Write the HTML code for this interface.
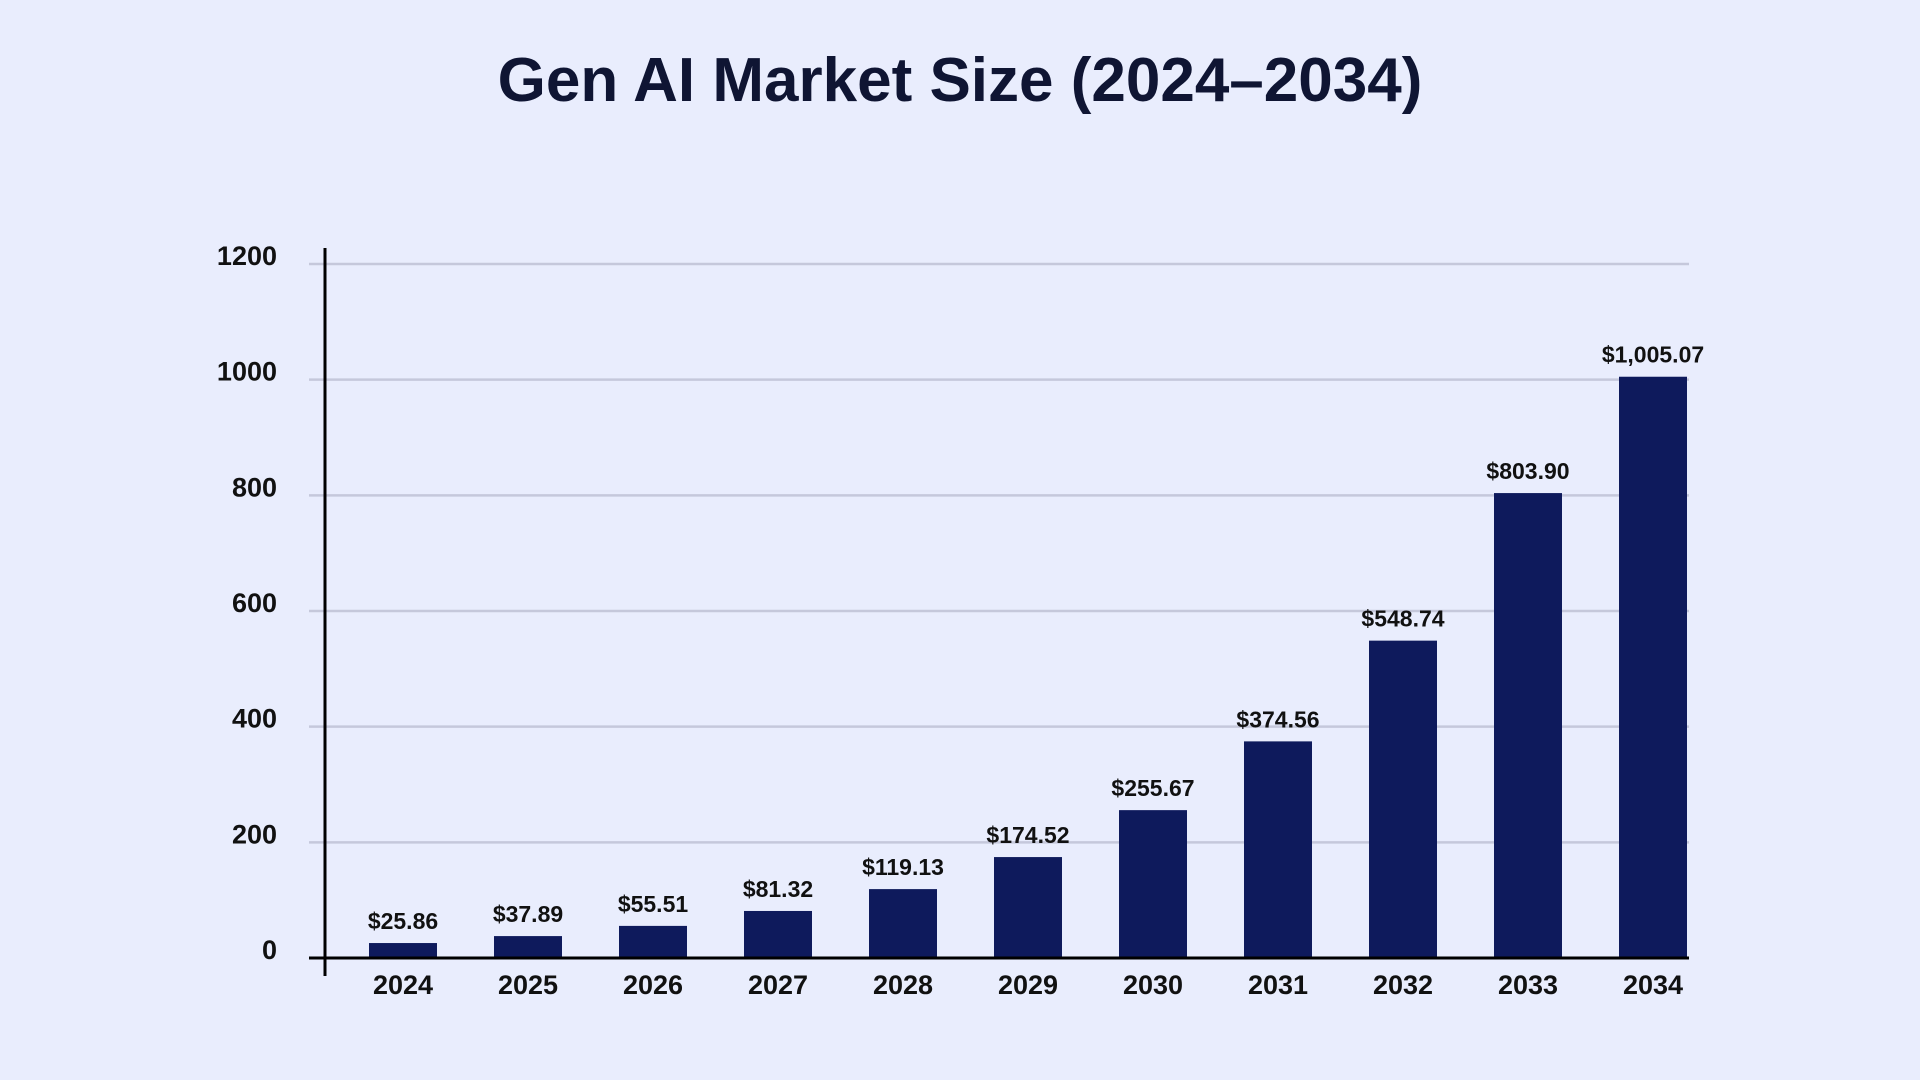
<!DOCTYPE html>
<html><head><meta charset="utf-8"><style>
html,body{margin:0;padding:0;background:#e9edfd;width:1920px;height:1080px;overflow:hidden}
svg{display:block}
</style></head><body>
<svg id="chart" width="1920" height="1080" xmlns="http://www.w3.org/2000/svg">
<rect x="0" y="0" width="1920" height="1080" fill="#e9edfd"/>
<text x="960" y="101" text-anchor="middle" font-family="Liberation Sans, sans-serif" font-weight="bold" font-size="62" fill="#0f1533">Gen AI Market Size (2024–2034)</text>
<g id="grid"></g>
<g id="bars"></g>
<g id="axes"></g>
</svg>
<script>
const categories = ["2024","2025","2026","2027","2028","2029","2030","2031","2032","2033","2034"];
const values = [25.86,37.89,55.51,81.32,119.13,174.52,255.67,374.56,548.74,803.90,1005.07];
const valueLabels = ["$25.86","$37.89","$55.51","$81.32","$119.13","$174.52","$255.67","$374.56","$548.74","$803.90","$1,005.07"];
const yTicks = [0,200,400,600,800,1000,1200];

const NS = "http://www.w3.org/2000/svg";
const y0 = 958, yTop = 264, yMax = 1200;
const yScale = v => y0 - (v / yMax) * (y0 - yTop);
const firstCenter = 403, step = 125, barW = 68;
const xScale = i => firstCenter + i * step;
function mk(tag, attrs, parent){
  const e = document.createElementNS(NS, tag);
  for (const k in attrs) e.setAttribute(k, attrs[k]);
  parent.appendChild(e);
  return e;
}
const grid = document.getElementById('grid');
const bars = document.getElementById('bars');
const axes = document.getElementById('axes');
const font = "Liberation Sans, sans-serif";

yTicks.forEach(t => {
  const y = yScale(t);
  if (t > 0) {
    const l = mk('line', {x1:309, x2:1689, y1:y, y2:y, stroke:'#c5c8db', 'stroke-width':2.5}, grid);
    
    
  }
  const tx = mk('text', {x:277, y:y + 1, 'text-anchor':'end', 'font-family':font, 'font-weight':'bold', 'font-size':27, fill:'#111'}, axes);
  tx.textContent = t;
  
  
});

categories.forEach((c, i) => {
  const cx = xScale(i);
  const y = yScale(values[i]);
  const r = mk('rect', {x:cx - barW/2, y:y, width:barW, height:y0 - y, fill:'#0e1a5c'}, bars);
  
  
  const vl = mk('text', {x:cx, y:y - 14, 'text-anchor':'middle', 'font-family':font, 'font-weight':'bold', 'font-size':23, fill:'#111'}, bars);
  vl.textContent = valueLabels[i];
  
  
  const xl = mk('text', {x:cx, y:994, 'text-anchor':'middle', 'font-family':font, 'font-weight':'bold', 'font-size':27, fill:'#111'}, axes);
  xl.textContent = c;
  
  
});

const xa = mk('line', {x1:309, x2:1689, y1:y0, y2:y0, stroke:'#000', 'stroke-width':3}, axes);


const ya = mk('line', {x1:325, x2:325, y1:248, y2:976, stroke:'#000', 'stroke-width':3}, axes);


</script>
</body></html>
